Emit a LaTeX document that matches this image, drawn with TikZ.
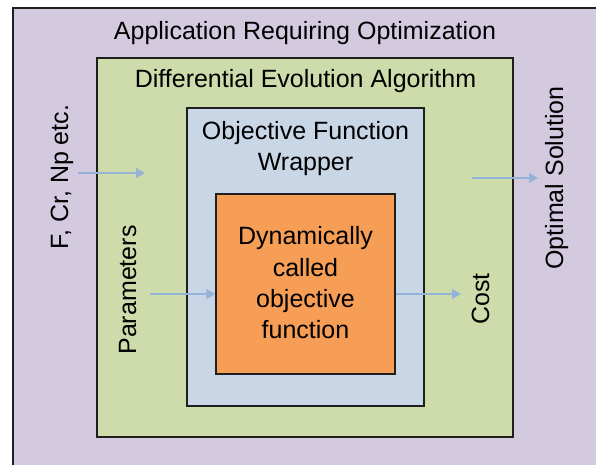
\documentclass[tikz,border=0pt]{standalone}
\usepackage{fontspec}
\setmainfont{Liberation Sans}
\usetikzlibrary{arrows.meta}
\definecolor{purp}{RGB}{212,202,224}
\definecolor{grn}{RGB}{205,220,170}
\definecolor{blu}{RGB}{200,214,230}
\definecolor{orng}{RGB}{246,157,86}
\definecolor{arr}{RGB}{149,179,215}
\definecolor{edge}{RGB}{30,30,30}
\tikzset{
  boxstyle/.style={draw=edge, line width=1.4pt},
  lbl/.style={font=\fontsize{25}{31}\selectfont, text=black, inner sep=0pt},
  vlbl/.style={lbl, rotate=90, anchor=base},
  flow/.style={draw=arr, line width=1.5pt, -{Triangle[length=9pt,width=10pt]}}
}
\begin{document}
\begin{tikzpicture}[x=1pt,y=-1pt]
\useasboundingbox (0,0) rectangle (596,464);
\clip (0,0) rectangle (596,464);
\fill[white] (0,0) rectangle (596,464);
% boxes
\path[boxstyle, fill=purp] (13,8) rectangle (610,480);
\node[boxstyle, fill=grn, minimum width=416pt, minimum height=379pt, inner sep=0pt] (de) at (305,247.5) {};
\node[boxstyle, fill=blu, minimum width=237pt, minimum height=298pt, inner sep=0pt] (wrap) at (305.5,257) {};
\node[boxstyle, fill=orng, minimum width=179pt, minimum height=180pt, inner sep=0pt] (obj) at (305.5,284) {};
% texts
\node[lbl, anchor=base] (app) at (305,39) {Application Requiring Optimization};
\node[lbl, anchor=base] (dea) at (305.5,87) {Differential Evolution Algorithm};
\node[lbl, anchor=base] (ofw1) at (305.5,139) {Objective Function};
\node[lbl, anchor=base] (ofw2) at (305.5,170) {Wrapper};
\node[lbl, anchor=base] (d1) at (305.5,244) {Dynamically};
\node[lbl, anchor=base] (d2) at (305.5,276) {called};
\node[lbl, anchor=base] (d3) at (305.5,307) {objective};
\node[lbl, anchor=base] (d4) at (305.5,338) {function};
\node[vlbl] (fcr) at (68,177) {F, Cr, Np etc.};
\node[vlbl] (par) at (136,290) {Parameters};
\node[vlbl] (cost) at (489,299) {Cost};
\node[vlbl] (opt) at (563,178) {Optimal Solution};
% arrows
\coordinate (a1s) at (78,173);
\coordinate (a1e) at (145,173);
\coordinate (a2s) at (150,294);
\coordinate (a4s) at (472,178);
\coordinate (a4e) at (538,178);
\coordinate (a3e) at (461,294);
\draw[flow] (a1s) -- (a1e);
\draw[flow] (a2s) -- (a2s -| obj.west);
\draw[flow] (a2s -| obj.east) -- (a3e);
\draw[flow] (a4s) -- (a4e);
\end{tikzpicture}
\end{document}
